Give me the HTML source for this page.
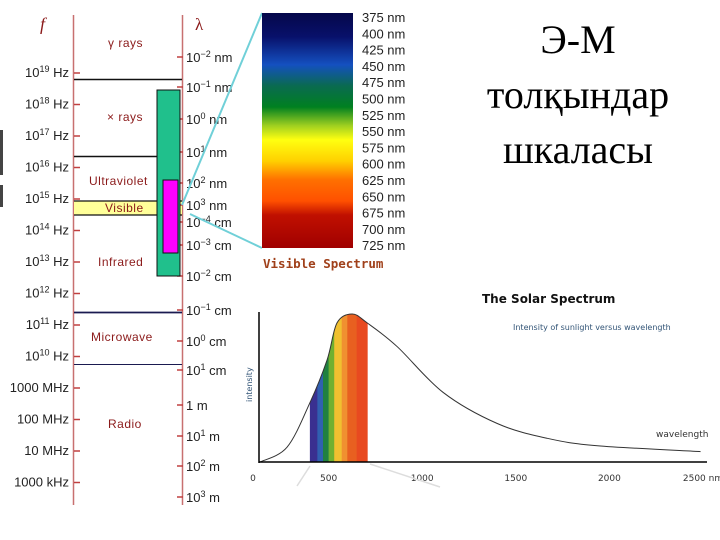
<!DOCTYPE html>
<html><head><meta charset="utf-8"><style>
html,body{margin:0;padding:0;background:#fff;width:720px;height:540px;overflow:hidden}
svg{display:block}
.f{font-family:"Liberation Sans",sans-serif;font-size:13px;fill:#222}
.b{font-family:"Liberation Sans",sans-serif;font-size:12px;fill:#8b1a1a;letter-spacing:0.5px}
.t{font-family:"Liberation Serif","Noto Serif CJK SC",serif;font-size:40px;fill:#000}
</style></head><body>
<svg width="720" height="540" viewBox="0 0 720 540">
<defs>
<linearGradient id="vis" x1="0" y1="0" x2="0" y2="1">
<stop offset="0" stop-color="#05084a"/><stop offset="0.1" stop-color="#08106a"/><stop offset="0.22" stop-color="#1450c0"/>
<stop offset="0.31" stop-color="#0a6a50"/><stop offset="0.4" stop-color="#008020"/><stop offset="0.48" stop-color="#a0d020"/>
<stop offset="0.54" stop-color="#ffff10"/><stop offset="0.63" stop-color="#ffd000"/><stop offset="0.71" stop-color="#ff7000"/>
<stop offset="0.8" stop-color="#ff5000"/><stop offset="0.86" stop-color="#c01000"/><stop offset="1" stop-color="#a00000"/>
</linearGradient>
</defs>
<rect x="0" y="130" width="3" height="45" fill="#444"/>
<rect x="0" y="185" width="3" height="22" fill="#444"/>

<line x1="73.5" y1="15" x2="73.5" y2="505" stroke="#c87070" stroke-width="1.5"/>
<line x1="182.5" y1="15" x2="182.5" y2="505" stroke="#c87070" stroke-width="1.5"/>
<text x="40" y="30" font-family="Liberation Serif,serif" font-style="italic" font-size="18" fill="#8b1a1a">f</text>
<text x="195" y="30" font-family="Liberation Serif,serif" font-size="17" fill="#8b1a1a">λ</text>

<rect x="74" y="201" width="108" height="14" fill="#ffff99"/>
<line x1="74" y1="79.5" x2="182" y2="79.5" stroke="#111" stroke-width="1.5"/>
<line x1="74" y1="156.5" x2="160" y2="156.5" stroke="#111" stroke-width="1.5"/>
<line x1="74" y1="201" x2="182" y2="201" stroke="#111" stroke-width="1.3"/>
<line x1="74" y1="215" x2="182" y2="215" stroke="#111" stroke-width="1.3"/>
<line x1="74" y1="312.5" x2="182" y2="312.5" stroke="#1a1a50" stroke-width="1.8"/>
<line x1="74" y1="364.5" x2="182" y2="364.5" stroke="#1a1a50" stroke-width="1"/>

<g id="freq"></g>
<g id="wave"></g>

<text class="b" x="108" y="47">γ rays</text>
<text class="b" x="107" y="121">× rays</text>
<text class="b" x="89" y="185">Ultraviolet</text>
<text class="b" x="105" y="212">Visible</text>
<text class="b" x="98" y="266">Infrared</text>
<text class="b" x="91" y="341">Microwave</text>
<text class="b" x="108" y="428">Radio</text>

<rect x="157" y="90" width="23" height="186" fill="#20c08c" stroke="#111" stroke-width="1"/>
<rect x="163" y="180" width="15" height="73" fill="#ff00ff" stroke="#111" stroke-width="1"/>

<line x1="182" y1="205" x2="262" y2="13" stroke="#70d0d8" stroke-width="2"/>
<line x1="190" y1="214" x2="262" y2="248" stroke="#70d0d8" stroke-width="2"/>

<rect x="262" y="13" width="91" height="235" fill="url(#vis)"/>
<g id="vislab"></g>
<text x="263" y="268" font-family="DejaVu Sans Mono,Liberation Mono,monospace" font-weight="bold" font-size="12.5" fill="#a0401a">Visible Spectrum</text>

<text class="t" x="578" y="53" text-anchor="middle">Э-М</text>
<text class="t" x="578" y="108" text-anchor="middle">толқындар</text>
<text class="t" x="578" y="163" text-anchor="middle">шкаласы</text>

<g id="solar"></g>
<text x="482" y="303" font-family="DejaVu Sans,sans-serif" font-weight="bold" font-size="12" fill="#111">The Solar Spectrum</text>
<text x="513" y="330" font-family="DejaVu Sans,sans-serif" font-size="8" fill="#335577">Intensity of sunlight versus wavelength</text>
<text x="0" y="0" transform="translate(252,402) rotate(-90)" font-family="DejaVu Sans,sans-serif" font-size="8" fill="#335577">intensity</text>
<text x="656" y="437" font-family="DejaVu Sans,sans-serif" font-size="9" fill="#333">wavelength</text>
<line x1="297" y1="486" x2="310" y2="466" stroke="#ddd" stroke-width="1.5"/>
<line x1="370" y1="464" x2="440" y2="487" stroke="#ddd" stroke-width="1.5"/>
</svg>
<script>
const NS="http://www.w3.org/2000/svg";
function mk(tag,attrs,parent,txt){const e=document.createElementNS(NS,tag);for(const k in attrs)e.setAttribute(k,attrs[k]);if(txt!==undefined)e.textContent=txt;parent.appendChild(e);return e;}

const freqLabels=[["10","19"," Hz"],["10","18"," Hz"],["10","17"," Hz"],["10","16"," Hz"],["10","15"," Hz"],["10","14"," Hz"],["10","13"," Hz"],["10","12"," Hz"],["10","11"," Hz"],["10","10"," Hz"],["1000 MHz","",""],["100 MHz","",""],["10 MHz","",""],["1000 kHz","",""]];
const fg=document.getElementById('freq');
freqLabels.forEach((l,i)=>{const y=73+i*31.5;
 const t=mk('text',{x:69,y:y+4,'text-anchor':'end',class:'f'},fg);
 
 
 mk('tspan',{},t,l[0]); if(l[1]){mk('tspan',{dy:-5,'font-size':9},t,l[1]);mk('tspan',{dy:5},t,l[2]);}
 const tk=mk('line',{x1:74,x2:80,y1:y,y2:y,stroke:'#c04040','stroke-width':1.5},fg);
 
 
});
const waveLabels=[["10","−2"," nm",57],["10","−1"," nm",87],["10","0"," nm",119],["10","1"," nm",152],["10","2"," nm",183],["10","3"," nm",205],["10","−4"," cm",222],["10","−3"," cm",245],["10","−2"," cm",276],["10","−1"," cm",310],["10","0"," cm",341],["10","1"," cm",370],["1 m","","",405],["10","1"," m",436],["10","2"," m",466],["10","3"," m",497]];
const wg=document.getElementById('wave');
waveLabels.forEach(l=>{const y=l[3];
 const t=mk('text',{x:186,y:y+5,class:'f'},wg);
 
 
 mk('tspan',{},t,l[0]); if(l[1]){mk('tspan',{dy:-5,'font-size':9},t,l[1]);mk('tspan',{dy:5},t,l[2]);}
 const tk=mk('line',{x1:177,x2:183,y1:y,y2:y,stroke:'#c04040','stroke-width':1.5},wg);
 
 
});
const visLabels=[375,400,425,450,475,500,525,550,575,600,625,650,675,700,725];
const vg=document.getElementById('vislab');
visLabels.forEach((v,i)=>{const t=mk('text',{x:362,y:22+i*16.3,class:'f','font-size':13},vg,v+' nm');
 
 });

const solarWavelengths=[134,278,400,492,545,626,706,866,1112,1401,1668,1936,2487];
const solarIntensity=[0,10,40,69,94,100,94,78,47,26,16,11,7];
const xTicks=[0,500,1000,1500,2000,2500];
const xTickText=["0","500","1000","1500","2000","2500 nm"];
const bandStart=[400,440,470,500,530,570,600,650];
const bandEnd=[440,470,500,530,570,600,650,706];
const bandColors=["#3a3090","#3060b0","#208040","#70b030","#f0c030","#f09030","#e86020","#e84a20"];

const X0=259,Y0=462,H=148;
const xs=l=>235+0.1872*l;
const ys=v=>Y0-v/100*H;
const sg=document.getElementById('solar');
function smooth(){const p=solarWavelengths.map((l,i)=>[xs(l),ys(solarIntensity[i])]);
 let s='M'+p[0][0]+','+p[0][1];
 for(let i=0;i<p.length-1;i++){const p0=p[i-1]||p[i],p1=p[i],p2=p[i+1],p3=p[i+2]||p2;
  s+=' C'+(p1[0]+(p2[0]-p0[0])/6)+','+(p1[1]+(p2[1]-p0[1])/6)+' '+(p2[0]-(p3[0]-p1[0])/6)+','+(p2[1]-(p3[1]-p1[1])/6)+' '+p2[0]+','+p2[1];}
 return s;}
const curve=smooth();
const defs=mk('defs',{},sg);
const cp=mk('clipPath',{id:'under'},defs);
mk('path',{d:curve+' L'+xs(solarWavelengths[solarWavelengths.length-1])+','+Y0+' L'+xs(solarWavelengths[0])+','+Y0+' Z'},cp);
const bands=mk('g',{'clip-path':'url(#under)'},sg);
bandStart.forEach((s,i)=>{const r=mk('rect',{x:xs(s),y:300,width:xs(bandEnd[i])-xs(s)+0.5,height:Y0-300,fill:bandColors[i]},bands);
 
 });
const cv=mk('path',{d:curve,fill:'none',stroke:'#333','stroke-width':1},sg);


const ya=mk('line',{x1:X0,x2:X0,y1:312,y2:Y0+1,stroke:'#000','stroke-width':1.5},sg);


const xa=mk('line',{x1:X0,x2:707,y1:Y0,y2:Y0,stroke:'#000','stroke-width':1.5},sg);


xTicks.forEach((v,i)=>{const x=i==0?253:xs(v);
 const t=mk('text',{x:x,y:481,'text-anchor':'middle','font-family':'DejaVu Sans,sans-serif','font-size':9,fill:'#333'},sg,xTickText[i]);
 
 });
</script>
</body></html>
